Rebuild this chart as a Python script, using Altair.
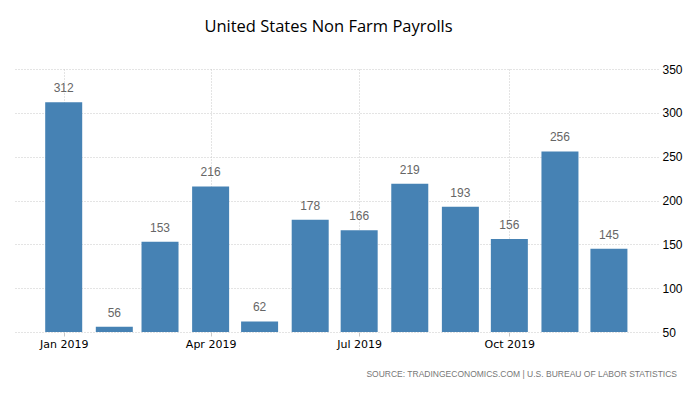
import altair as alt
import pandas as pd

months = ["2019-01-01", "2019-02-01", "2019-03-01", "2019-04-01", "2019-05-01", "2019-06-01",
          "2019-07-01", "2019-08-01", "2019-09-01", "2019-10-01", "2019-11-01", "2019-12-01"]
payrolls = [312, 56, 153, 216, 62, 178, 166, 219, 193, 156, 256, 145]
x_domain = ["2018-12-04", "2019-12-28"]
y_ticks = [50, 100, 150, 200, 250, 300, 350]
x_ticks = ["2019-01-01", "2019-04-01", "2019-07-01", "2019-10-01"]
source_text = "SOURCE: TRADINGECONOMICS.COM  |  U.S. BUREAU OF LABOR STATISTICS"

df = pd.DataFrame({"date": pd.to_datetime(months), "value": payrolls})

x = alt.X("date:T",
          scale=alt.Scale(domain=x_domain),
          axis=alt.Axis(values=x_ticks, format="%b %Y", title=None, grid=True,
                        gridColor="#c8c8c8", gridDash=[1, 2], domain=False,
                        tickColor="#c8c8c8", tickSize=4, labelColor="#000000",
                        labelFont="DejaVu Sans", labelFontSize=11, labelPadding=2))
y = alt.Y("value:Q",
          scale=alt.Scale(domain=[50, 350], nice=False),
          axis=alt.Axis(orient="right", values=y_ticks, title=None, grid=True,
                        gridColor="#c8c8c8", gridDash=[1, 2], domain=False, ticks=False,
                        labelColor="#000000", labelFont="Liberation Sans",
                        labelFontSize=12, labelPadding=4))

base = alt.Chart(df)
bars = base.mark_bar(size=37, color="#4682b4", clip=True).encode(x=x, y=y)
labels = base.mark_text(dy=-7, baseline="bottom", color="#666666",
                        font="Liberation Sans", fontSize=12).encode(
    x="date:T", y="value:Q", text="value:Q")
src = alt.Chart(pd.DataFrame({"t": [source_text]})).mark_text(
    align="right", baseline="middle", color="#777777", font="Liberation Sans",
    fontSize=8.5).encode(x=alt.value(664), y=alt.value(305), text="t:N")

chart = alt.layer(bars, labels, src).properties(
    width=645, height=263,
    autosize=alt.AutoSizeParams(type="none"),
    padding={"left": 5, "top": 61, "right": 25, "bottom": 50},
    title=alt.TitleParams("United States Non Farm Payrolls", anchor="middle",
                          font="Open Sans", fontSize=16.5, fontWeight="normal",
                          color="#000000", offset=28, dx=-7),
).configure_view(stroke=None)

chart.save("out.html", embed_options={"renderer": "svg", "actions": False})
